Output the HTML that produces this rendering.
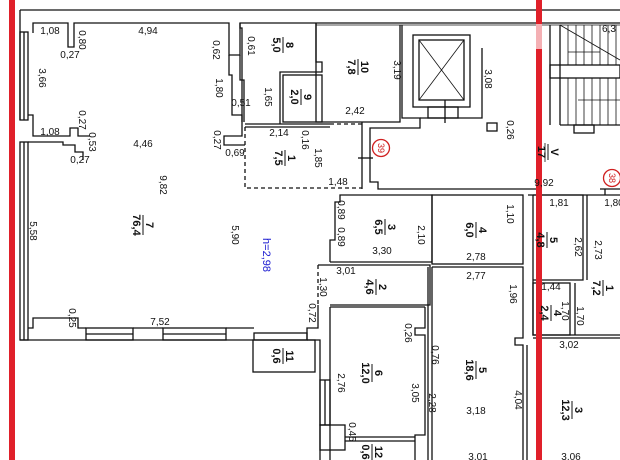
<!DOCTYPE html>
<html><head><meta charset="utf-8"><style>
html,body{margin:0;padding:0;background:#fff;width:620px;height:460px;overflow:hidden}
svg{display:block}
text{font-family:"Liberation Sans",sans-serif;font-size:10px;fill:#111}
.r{font-size:11px;font-weight:bold}
</style></head><body>
<svg width="620" height="460" viewBox="0 0 620 460" xmlns="http://www.w3.org/2000/svg">
<g fill="none" stroke="#111" stroke-width="1.3">
<!-- outer lines -->
<line x1="20" y1="10" x2="620" y2="10"/>
<line x1="20" y1="10" x2="20" y2="120"/>
<polyline points="33,33 33,23 68,23 68,47 74,47 74,23 229,23 229,55 240,55 240,23 316,23"/>
<polyline points="316,23 620,23"/>
<line x1="316" y1="25" x2="620" y2="25" stroke-width="0.8"/>
<!-- left window wall -->
<rect x="20" y="32" width="8" height="88"/>
<line x1="24" y1="32" x2="24" y2="120"/>
<rect x="20" y="142" width="8" height="198"/>
<line x1="24" y1="142" x2="24" y2="340"/>
<polyline points="28,115 33,115 33,136 70,136 70,128 78,128 78,136 90,136"/>
<polyline points="28,142 63,142 63,145 75,145 75,152 83,152 83,160"/>
<!-- bottom wall -->
<polyline points="20,340 253,340"/>
<polyline points="28,328 33,328 33,318 78,318 78,328 86,328"/>
<rect x="86" y="328" width="47" height="12"/>
<line x1="86" y1="334" x2="133" y2="334"/>
<line x1="133" y1="328" x2="163" y2="328"/>
<rect x="163" y="328" width="63" height="12"/>
<line x1="163" y1="334" x2="226" y2="334"/>
<line x1="226" y1="328" x2="254" y2="328"/>
<rect x="254" y="333" width="53" height="7"/>
<polyline points="307,340 307,328 318,328 318,305"/>
<rect x="253" y="340" width="62" height="32"/>
<polyline points="307,340 320,340 320,460"/>
<polyline points="330,460 330,307"/>
<rect x="320" y="380" width="10" height="45"/>
<line x1="325" y1="380" x2="325" y2="425"/>
<rect x="320" y="425" width="25" height="25"/>
<!-- room 7 right wall stepped -->
<polyline points="229,55 229,75 232,75 232,115 242,115 242,136 224,136 224,145 245,145"/>
<polyline points="240,55 240,80 244,80 244,122"/>
<!-- room 8/9 -->
<polyline points="240,23 240,28 242,28 242,122"/>
<polyline points="316,23 316,62 322,62 322,72 280,72 280,124"/>
<rect x="283" y="75" width="39" height="47"/>
<line x1="245" y1="124" x2="330" y2="124"/>
<line x1="245" y1="127" x2="330" y2="127"/>
<!-- room 1 dashed -->
<polyline points="245,127 245,188 362,188" stroke-dasharray="4,3"/>
<polyline points="330,124 362,124" stroke-dasharray="4,3"/>
<!-- room 10 -->
<polyline points="316,23 316,122 362,122 400,122 400,25"/>
<!-- elevator area -->
<polyline points="402,25 402,118 420,118 420,128 370,128 370,182 378,182 378,189 538,189"/>
<polyline points="362,122 362,189"/>
<rect x="413" y="35" width="57" height="72"/>
<rect x="419" y="40" width="45" height="60"/>
<line x1="419" y1="40" x2="464" y2="100" stroke-width="0.8"/>
<line x1="464" y1="40" x2="419" y2="100" stroke-width="0.8"/>
<rect x="428" y="107" width="30" height="11"/>
<line x1="445" y1="100" x2="445" y2="123"/>
<polyline points="482,48 482,118 420,118"/>
<rect x="487" y="123" width="10" height="8"/>
<line x1="358" y1="158" x2="373" y2="158"/>
<!-- rooms row 2 -->
<polyline points="330,262 330,240 335,240 335,202 340,202 340,195 432,195 432,262 330,262"/>
<rect x="432" y="195" width="91" height="69"/>
<polyline points="318,265 430,265 430,305 330,305"/>
<line x1="318" y1="265" x2="318" y2="305" stroke-dasharray="4,3"/>
<line x1="330" y1="307" x2="425" y2="307"/>
<polyline points="425,307 425,328 415,328 415,335 425,335 425,435 415,435 415,460"/>
<line x1="345" y1="437" x2="415" y2="437"/>
<line x1="345" y1="441" x2="415" y2="441"/>
<polyline points="432,267 523,267 523,338 515,338 515,345 523,345 523,460"/>
<line x1="432" y1="267" x2="432" y2="460"/>
<line x1="428" y1="267" x2="428" y2="460"/>
<line x1="527" y1="345" x2="527" y2="460"/>
<!-- right of red -->
<polyline points="533,195 533,335 620,335"/>
<polyline points="533,195 583,195 583,280 533,280"/>
<line x1="587" y1="195" x2="587" y2="280"/>
<rect x="533" y="283" width="37" height="52"/>
<line x1="575" y1="283" x2="575" y2="335"/>
<line x1="533" y1="338" x2="620" y2="338"/>
<line x1="528" y1="195" x2="620" y2="195"/>
<line x1="600" y1="189" x2="620" y2="189"/>
<line x1="605" y1="189" x2="605" y2="195"/>
<!-- stairs -->
<line x1="550" y1="25" x2="550" y2="125"/>
<rect x="550" y="65" width="70" height="13"/>
<line x1="560" y1="25" x2="560" y2="125"/>
<line x1="560" y1="125" x2="620" y2="125"/>
<rect x="574" y="125" width="20" height="8"/>
<g stroke-width="0.8">
<line x1="568" y1="25" x2="568" y2="65"/><line x1="576" y1="25" x2="576" y2="65"/><line x1="584" y1="25" x2="584" y2="65"/><line x1="592" y1="25" x2="592" y2="65"/><line x1="600" y1="25" x2="600" y2="65"/><line x1="608" y1="25" x2="608" y2="65"/><line x1="616" y1="25" x2="616" y2="65"/>
<line x1="568" y1="78" x2="568" y2="125"/><line x1="576" y1="78" x2="576" y2="125"/><line x1="584" y1="78" x2="584" y2="125"/><line x1="592" y1="78" x2="592" y2="125"/><line x1="600" y1="78" x2="600" y2="125"/><line x1="608" y1="78" x2="608" y2="125"/><line x1="616" y1="78" x2="616" y2="125"/>
<line x1="560" y1="25" x2="620" y2="60"/>
<line x1="568" y1="52" x2="600" y2="52"/>
<line x1="578" y1="100" x2="620" y2="100"/>
<line x1="545" y1="143" x2="545" y2="162"/>
</g>
</g>
<!-- red lines -->
<rect x="9" y="0" width="6" height="460" fill="#e0202a"/>
<rect x="536" y="0" width="6" height="460" fill="#e0202a"/>
<rect x="536" y="24" width="6" height="25" fill="#f4b0b4"/>
<!-- circles -->
<circle cx="381" cy="148" r="8.5" fill="#fff" stroke="#d02020" stroke-width="1.3"/>
<text x="381" y="148" transform="rotate(90 381 148)" text-anchor="middle" dominant-baseline="central" style="fill:#d02020;font-size:9px">39</text>
<circle cx="612" cy="178" r="8.5" fill="#fff" stroke="#d02020" stroke-width="1.3"/>
<text x="612" y="178" transform="rotate(90 612 178)" text-anchor="middle" dominant-baseline="central" style="fill:#d02020;font-size:9px">38</text>
<!-- horizontal dims -->
<g text-anchor="middle">
<text x="50" y="34">1,08</text><text x="70" y="58">0,27</text><text x="148" y="34">4,94</text>
<text x="241" y="106">0,51</text><text x="50" y="135">1,08</text><text x="80" y="163">0,27</text>
<text x="143" y="147">4,46</text><text x="235" y="156">0,69</text><text x="279" y="136">2,14</text>
<text x="338" y="185">1,48</text><text x="355" y="114">2,42</text><text x="544" y="186">9,92</text>
<text x="160" y="325">7,52</text><text x="346" y="274">3,01</text><text x="382" y="254">3,30</text>
<text x="476" y="260">2,78</text><text x="476" y="279">2,77</text><text x="476" y="414">3,18</text>
<text x="478" y="460">3,01</text><text x="571" y="460">3,06</text><text x="559" y="206">1,81</text>
<text x="614" y="206">1,80</text><text x="551" y="290">1,44</text><text x="569" y="348">3,02</text>
<text x="609" y="32">6,3</text>
</g>
<!-- rotated dims -->
<g text-anchor="middle">
<text transform="translate(79,40) rotate(90)">0,80</text>
<text transform="translate(213,50) rotate(90)">0,62</text>
<text transform="translate(248,46) rotate(90)">0,61</text>
<text transform="translate(216,88) rotate(90)">1,80</text>
<text transform="translate(265,97) rotate(90)">1,65</text>
<text transform="translate(39,78) rotate(90)">3,66</text>
<text transform="translate(79,120) rotate(90)">0,27</text>
<text transform="translate(89,142) rotate(90)">0,53</text>
<text transform="translate(214,140) rotate(90)">0,27</text>
<text transform="translate(302,140) rotate(90)">0,16</text>
<text transform="translate(315,158) rotate(90)">1,85</text>
<text transform="translate(160,185) rotate(90)">9,82</text>
<text transform="translate(30,231) rotate(90)">5,58</text>
<text transform="translate(232,235) rotate(90)">5,90</text>
<text transform="translate(69,318) rotate(90)">0,25</text>
<text transform="translate(309,313) rotate(90)">0,72</text>
<text transform="translate(320,287) rotate(90)">1,30</text>
<text transform="translate(338,210) rotate(90)">0,89</text>
<text transform="translate(338,237) rotate(90)">0,89</text>
<text transform="translate(418,235) rotate(90)">2,10</text>
<text transform="translate(507,214) rotate(90)">1,10</text>
<text transform="translate(510,294) rotate(90)">1,96</text>
<text transform="translate(405,333) rotate(90)">0,26</text>
<text transform="translate(432,355) rotate(90)">0,76</text>
<text transform="translate(338,383) rotate(90)">2,76</text>
<text transform="translate(412,393) rotate(90)">3,05</text>
<text transform="translate(429,403) rotate(90)">2,28</text>
<text transform="translate(515,400) rotate(90)">4,04</text>
<text transform="translate(349,432) rotate(90)">0,45</text>
<text transform="translate(394,70) rotate(90)">3,19</text>
<text transform="translate(485,79) rotate(90)">3,08</text>
<text transform="translate(507,130) rotate(90)">0,26</text>
<text transform="translate(575,247) rotate(90)">2,62</text>
<text transform="translate(595,250) rotate(90)">2,73</text>
<text transform="translate(562,311) rotate(90)">1,70</text>
<text transform="translate(577,316) rotate(90)">1,70</text>
<text transform="translate(263,255) rotate(90)" style="fill:#1a1ad0;font-size:11px">h=2,98</text>
</g>
<!-- room labels -->
<g text-anchor="middle" class="r">
<g transform="translate(283,45) rotate(90)"><text class="r" y="-3">8</text><line x1="-8" x2="8" y1="0" y2="0" stroke="#111"/><text class="r" y="10">5,0</text></g>
<g transform="translate(301,97) rotate(90)"><text class="r" y="-3">9</text><line x1="-8" x2="8" y1="0" y2="0" stroke="#111"/><text class="r" y="10">2,0</text></g>
<g transform="translate(358,67) rotate(90)"><text class="r" y="-3">10</text><line x1="-8" x2="8" y1="0" y2="0" stroke="#111"/><text class="r" y="10">7,8</text></g>
<g transform="translate(285,158) rotate(90)"><text class="r" y="-3">1</text><line x1="-8" x2="8" y1="0" y2="0" stroke="#111"/><text class="r" y="10">7,5</text></g>
<g transform="translate(143,225) rotate(90)"><text class="r" y="-3">7</text><line x1="-10" x2="10" y1="0" y2="0" stroke="#111"/><text class="r" y="10">76,4</text></g>
<g transform="translate(283,356) rotate(90)"><text class="r" y="-3">11</text><line x1="-8" x2="8" y1="0" y2="0" stroke="#111"/><text class="r" y="10">0,6</text></g>
<g transform="translate(385,227) rotate(90)"><text class="r" y="-3">3</text><line x1="-8" x2="8" y1="0" y2="0" stroke="#111"/><text class="r" y="10">6,5</text></g>
<g transform="translate(476,230) rotate(90)"><text class="r" y="-3">4</text><line x1="-8" x2="8" y1="0" y2="0" stroke="#111"/><text class="r" y="10">6,0</text></g>
<g transform="translate(376,287) rotate(90)"><text class="r" y="-3">2</text><line x1="-8" x2="8" y1="0" y2="0" stroke="#111"/><text class="r" y="10">4,6</text></g>
<g transform="translate(372,373) rotate(90)"><text class="r" y="-3">6</text><line x1="-9" x2="9" y1="0" y2="0" stroke="#111"/><text class="r" y="10">12,0</text></g>
<g transform="translate(476,370) rotate(90)"><text class="r" y="-3">5</text><line x1="-9" x2="9" y1="0" y2="0" stroke="#111"/><text class="r" y="10">18,6</text></g>
<g transform="translate(547,240) rotate(90)"><text class="r" y="-3">5</text><line x1="-8" x2="8" y1="0" y2="0" stroke="#111"/><text class="r" y="10">4,8</text></g>
<g transform="translate(603,288) rotate(90)"><text class="r" y="-3">1</text><line x1="-8" x2="8" y1="0" y2="0" stroke="#111"/><text class="r" y="10">7,2</text></g>
<g transform="translate(551,313) rotate(90)"><text class="r" y="-3">4</text><line x1="-8" x2="8" y1="0" y2="0" stroke="#111"/><text class="r" y="10">2,4</text></g>
<g transform="translate(572,410) rotate(90)"><text class="r" y="-3">3</text><line x1="-9" x2="9" y1="0" y2="0" stroke="#111"/><text class="r" y="10">12,3</text></g>
<g transform="translate(372,452) rotate(90)"><text class="r" y="-3">12</text><line x1="-8" x2="8" y1="0" y2="0" stroke="#111"/><text class="r" y="10">0,6</text></g>
<g transform="translate(548,152) rotate(90)"><text class="r" y="-3">V</text><line x1="-8" x2="8" y1="0" y2="0" stroke="#111"/><text class="r" y="10">17</text></g>
</g>
</svg>
</body></html>
